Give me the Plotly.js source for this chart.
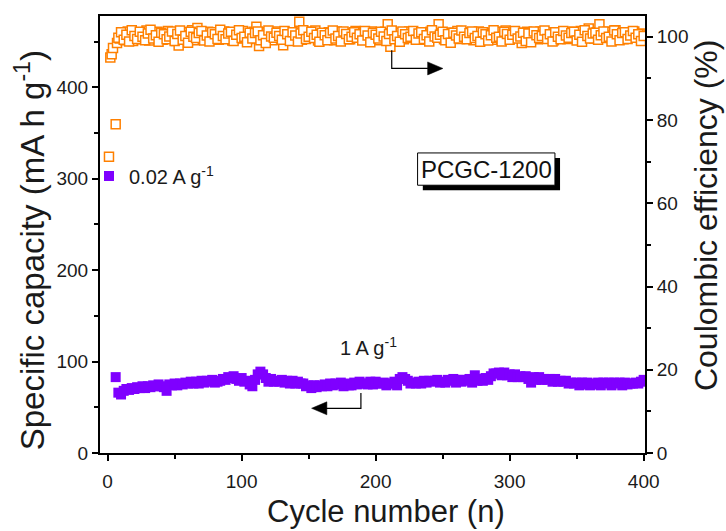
<!DOCTYPE html>
<html>
<head>
<meta charset="utf-8">
<script src="https://cdn.plot.ly/plotly-3.0.1.min.js"></script>
<style>
  html, body { margin: 0; padding: 0; background: #fff; }
  #chart { width: 726px; height: 531px; }
</style>
</head>
<body>
<div id="chart"></div>
<script>
// First cycle at 0.02 A g-1
const lowRateCycles = [1];
const lowRateCapacity = [303];

// Specific capacity at 1 A g-1, every second cycle from cycle 6 to 400 (mA h g-1)
const capStartCycle = 6;
const capStep = 2;
const capacity = [
  83, 66, 64, 68, 70, 69, 71, 70, 72, 71,
  73, 71, 73, 72, 74, 73, 75, 73, 72, 68,
  75, 74, 76, 74, 76, 75, 77, 76, 78, 76,
  78, 76, 79, 77, 79, 78, 80, 77, 78, 79,
  81, 80, 83, 82, 84, 81, 79, 82, 78, 79,
  75, 73, 80, 86, 89, 86, 82, 78, 81, 78,
  79, 78, 80, 77, 79, 76, 79, 76, 78, 76,
  76, 73, 74, 71, 74, 72, 74, 73, 75, 73,
  76, 74, 76, 75, 77, 73, 76, 74, 74, 77,
  75, 78, 76, 76, 75, 78, 75, 78, 76, 76,
  77, 74, 76, 76, 78, 74, 81, 83, 81, 79,
  76, 77, 76, 78, 76, 79, 77, 79, 78, 79,
  80, 77, 78, 77, 80, 79, 81, 77, 80, 78,
  80, 79, 81, 77, 85, 79, 81, 79, 82, 80,
  84, 87, 87, 88, 85, 88, 85, 86, 83, 86,
  83, 84, 83, 84, 81, 77, 83, 80, 83, 80,
  81, 80, 81, 78, 81, 78, 79, 78, 79, 76,
  77, 76, 77, 74, 77, 75, 77, 74, 76, 75,
  77, 74, 77, 76, 77, 74, 77, 76, 77, 74,
  77, 75, 76, 76, 77, 76, 78, 80
];

// Coulombic efficiency of the first cycles (%)
const ceEarlyCycles = [1, 2, 3, 4, 6];
const ceEarly = [71.2, 95.0, 95.8, 97.3, 79.0];

// Coulombic efficiency on odd cycles 7..399 (%)
const ceOddStart = 7;
const ceOdd = [
  98.5, 99.6, 100.8, 99.2, 101.3, 100.1, 99.0, 100.6, 101.0, 99.4,
  100.3, 101.5, 99.1, 100.7, 99.8, 101.2, 100.0, 99.3, 100.9, 101.4,
  99.6, 100.2, 99.0, 97.9, 100.8, 101.1, 99.5, 100.4, 101.6, 99.2,
  102.1, 100.3, 99.4, 100.9, 101.2, 99.7, 100.1, 101.0, 99.3, 100.6,
  101.3, 99.8, 100.4, 99.1, 101.0, 100.2, 99.6, 101.4, 100.0, 99.5,
  100.7, 101.2, 102.4, 97.8, 100.3, 99.4, 101.1, 100.5, 99.2, 100.8,
  101.3, 99.7, 98.0, 100.4, 101.0, 99.5, 100.9, 100.1, 103.6, 99.3,
  100.6, 101.2, 99.8, 100.3, 101.5, 99.1, 100.7, 100.0, 99.6, 101.1,
  100.4, 99.2, 101.3, 100.1, 99.7, 100.8, 101.0, 99.4, 100.5, 101.4,
  99.8, 100.2, 101.1, 99.5, 100.6, 101.3, 99.9, 100.3, 99.2, 100.9,
  101.2, 103.0, 97.6, 100.4, 99.6, 101.0, 100.2, 99.4, 100.8, 101.3,
  99.9, 100.5, 101.1, 99.3, 100.7, 100.1, 99.6, 101.2, 100.3, 99.8,
  103.0, 100.6, 99.4, 101.0, 100.2, 99.7, 100.9, 101.4, 99.5, 100.3,
  101.1, 99.9, 100.5, 99.2, 100.8, 101.3, 100.0, 99.6, 101.0, 100.4,
  99.3, 100.7, 101.2, 99.8, 100.1, 101.5, 99.5, 100.6, 100.2, 99.7,
  101.0, 98.5, 100.4, 101.2, 99.6, 100.8, 100.0, 99.4, 101.3, 100.5,
  99.8, 100.3, 101.1, 99.2, 100.7, 101.0, 99.9, 100.4, 99.5, 101.2,
  100.6, 100.1, 99.3, 101.4, 100.2, 99.7, 102.0, 100.9, 99.6, 101.1,
  103.0, 100.4, 99.8, 101.2, 100.3, 99.5, 101.6, 100.0, 100.7, 99.4,
  101.0, 100.5, 99.9, 101.3, 100.2, 100.8, 99.7
];

// Coulombic efficiency on even cycles 8..400 (%)
const ceEvenStart = 8;
const ceEven = [
  99.8, 101.1, 99.3, 100.5, 98.9, 101.6, 100.2, 99.5, 101.2, 100.0,
  99.2, 100.8, 101.7, 99.6, 100.4, 98.8, 101.0, 100.6, 99.4, 100.1,
  101.3, 99.0, 100.7, 101.5, 99.3, 100.2, 98.6, 101.2, 100.0, 99.7,
  100.9, 101.4, 99.1, 100.3, 98.9, 101.1, 100.6, 99.5, 101.7, 100.2,
  99.4, 100.8, 101.2, 99.0, 100.5, 101.6, 99.7, 100.0, 98.7, 101.0,
  99.6, 100.9, 101.3, 99.2, 100.4, 98.5, 101.5, 100.1, 99.8, 101.0,
  100.2, 99.3, 101.4, 100.6, 99.0, 101.1, 100.3, 98.9, 100.8, 101.6,
  99.5, 100.0, 101.2, 99.7, 100.5, 98.8, 101.0, 100.4, 99.2, 100.9,
  101.5, 99.6, 100.2, 98.9, 101.3, 100.7, 99.4, 100.0, 101.1, 99.8,
  100.6, 99.1, 101.4, 100.3, 98.7, 101.0, 100.5, 99.6, 101.2, 100.1,
  99.0, 100.7, 101.5, 99.4, 100.2, 98.8, 101.3, 100.6, 99.7, 100.0,
  101.4, 99.3, 100.8, 101.1, 99.5, 100.4, 98.9, 101.6, 100.1, 99.8,
  100.5, 101.2, 99.2, 100.7, 98.6, 101.0, 100.3, 99.6, 101.5, 100.0,
  99.4, 100.9, 101.3, 99.7, 100.2, 98.8, 101.1, 100.6, 99.1, 100.4,
  101.6, 99.8, 100.0, 98.9, 101.2, 100.7, 99.3, 100.5, 101.4, 99.6,
  100.1, 101.0, 99.0, 100.8, 98.7, 101.3, 100.4, 99.7, 100.2, 101.5,
  99.5, 100.6, 98.9, 101.1, 100.0, 99.4, 101.4, 100.3, 99.8, 100.9,
  101.2, 99.1, 100.5, 98.8, 101.6, 100.2, 99.6, 100.8, 101.0, 99.3,
  100.4, 101.3, 99.7, 100.0, 98.9, 101.5, 100.6, 99.2, 100.9, 101.1,
  99.5, 100.3, 101.4, 99.8, 100.6, 99.0, 100.2
];

const xTicks = [0, 100, 200, 300, 400];
const capTicks = [0, 100, 200, 300, 400];
const ceTicks = [0, 20, 40, 60, 80, 100];

const PURPLE = '#7F00FF';
const ORANGE = '#FF8000';
const FONT = '"Liberation Sans", Arial, sans-serif';
const INK = '#1a1a1a';

const capCycles = lowRateCycles.concat(capacity.map((_, i) => capStartCycle + capStep * i));
const capValues = lowRateCapacity.concat(capacity);
const ceCycles = ceEarlyCycles
  .concat(ceOdd.map((_, i) => ceOddStart + 2 * i))
  .concat(ceEven.map((_, i) => ceEvenStart + 2 * i));
const ceValues = ceEarly.concat(ceOdd).concat(ceEven);

const traces = [
  {
    x: ceCycles, y: ceValues, yaxis: 'y2', type: 'scatter', mode: 'markers',
    marker: { symbol: 'square', size: 9, color: '#ffffff', line: { color: ORANGE, width: 1.5 } },
    hoverinfo: 'x+y', showlegend: false
  },
  {
    x: capCycles, y: capValues, type: 'scatter', mode: 'markers',
    marker: { symbol: 'square', size: 10, color: PURPLE, line: { width: 0 } },
    hoverinfo: 'x+y', showlegend: false
  }
];

const minorTicks = (d) => ({ dtick: d, tick0: 0, ticks: 'outside', ticklen: 4, tickwidth: 2, tickcolor: '#000' });

const axisCommon = {
  showgrid: false, zeroline: false, showline: true, linecolor: '#000', linewidth: 2,
  ticks: 'outside', ticklen: 6, tickwidth: 2, tickcolor: '#000',
  tickfont: { family: FONT, size: 19, color: INK }
};

// Callout arrows pointing from each series to its axis
const arrowShapes = [
  // capacity -> left axis
  { type: 'path', xref: 'x', yref: 'y', path: 'M 189 65.6 L 189 48.9 L 163 48.9',
    line: { color: '#000', width: 1.2 } },
  { type: 'path', xref: 'x', yref: 'y', path: 'M 152.2 48.9 L 163.6 56 L 163.6 41.8 Z',
    fillcolor: '#000', line: { color: '#000', width: 0.5 } },
  // efficiency -> right axis
  { type: 'path', xref: 'x', yref: 'y2', path: 'M 212 96.8 L 212 92.4 L 239 92.4',
    line: { color: '#000', width: 1.2 } },
  { type: 'path', xref: 'x', yref: 'y2', path: 'M 250.2 92.4 L 238.8 93.96 L 238.8 90.84 Z',
    fillcolor: '#000', line: { color: '#000', width: 0.5 } }
];

// Sample label box with drop shadow
const boxShapes = [
  { type: 'rect', xref: 'x', yref: 'y', x0: 235.2, x1: 337.6, y0: 287.4, y1: 322.7,
    fillcolor: '#000', line: { width: 0 } },
  { type: 'rect', xref: 'x', yref: 'y', x0: 231.3, x1: 333.8, y0: 292.9, y1: 328.2,
    fillcolor: '#fff', line: { color: '#000', width: 1 } }
];

// Axis titles, placed as annotations
const axisTitles = [
  { xref: 'paper', yref: 'paper', x: 0.525, y: -0.133,
    text: 'Cycle number (n)', showarrow: false,
    xanchor: 'center', yanchor: 'middle', font: { family: FONT, size: 31, color: INK } },
  { xref: 'paper', yref: 'paper', x: -0.1284, y: 0.464, textangle: -90,
    text: 'Specific capacity (mA h g<sup>-1</sup>)', showarrow: false,
    xanchor: 'center', yanchor: 'middle', font: { family: FONT, size: 33, color: INK } },
  { xref: 'paper', yref: 'paper', x: 1.112, y: 0.5446, textangle: -90,
    text: 'Coulombic efficiency (%)', showarrow: false,
    xanchor: 'center', yanchor: 'middle', font: { family: FONT, size: 32, color: INK } }
];

const layout = {
  width: 726, height: 531,
  margin: { l: 100, r: 81, t: 16, b: 78 },
  paper_bgcolor: '#fff', plot_bgcolor: '#fff',
  font: { family: FONT, color: INK },
  showlegend: false,
  xaxis: Object.assign({}, axisCommon, {
    range: [-5.7, 401], tickvals: xTicks, mirror: true, ticklabelstandoff: 4,
    minor: minorTicks(50)
  }),
  yaxis: Object.assign({}, axisCommon, {
    range: [0, 478], tickvals: capTicks,
    minor: minorTicks(50)
  }),
  yaxis2: Object.assign({}, axisCommon, {
    overlaying: 'y', side: 'right', range: [0, 105], tickvals: ceTicks,
    minor: minorTicks(10)
  }),
  shapes: boxShapes.concat(arrowShapes),
  annotations: axisTitles.concat([
    { x: 14.4, y: 303, xref: 'x', yref: 'y', text: '0.02 A g<sup>-1</sup>', showarrow: false,
      xanchor: 'left', yanchor: 'middle', font: { family: FONT, size: 20, color: INK } },
    { x: 172, y: 117, xref: 'x', yref: 'y', text: '1 A g<sup>-1</sup>', showarrow: false,
      xanchor: 'left', yanchor: 'middle', font: { family: FONT, size: 20, color: INK } },
    { x: 282.5, y: 310.5, xref: 'x', yref: 'y', text: 'PCGC-1200', showarrow: false,
      xanchor: 'center', yanchor: 'middle', font: { family: FONT, size: 24, color: '#111' } }
  ])
};

Plotly.newPlot('chart', traces, layout, { displayModeBar: false, staticPlot: true });
</script>
</body>
</html>
